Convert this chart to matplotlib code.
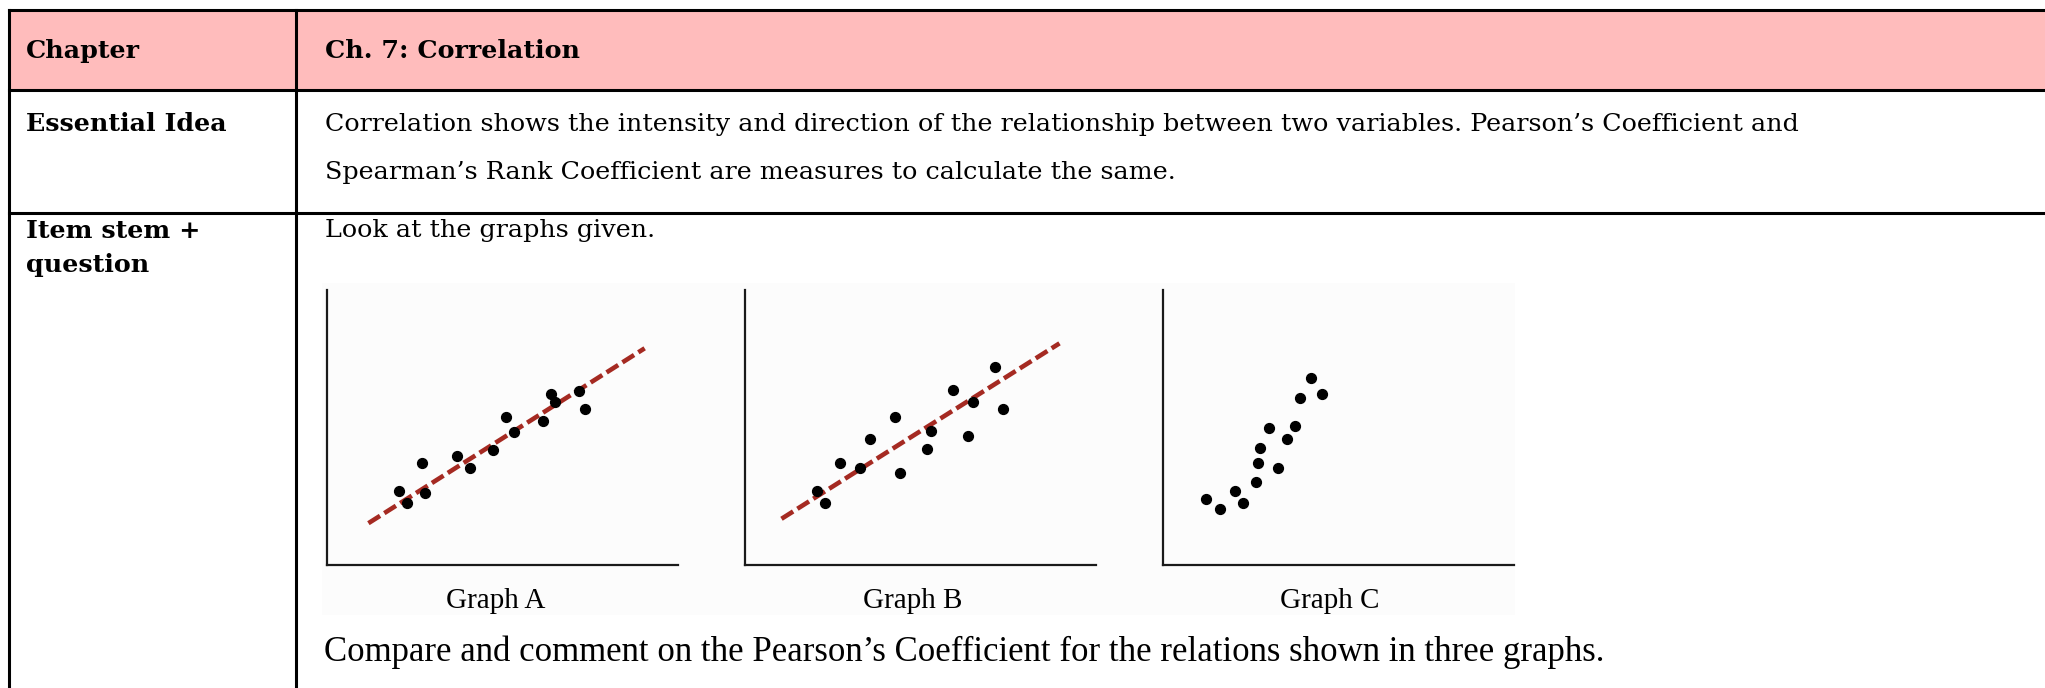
import matplotlib.pyplot as plt
from matplotlib.patches import Rectangle

# table text
row_labels = ["Chapter", "Essential Idea", "Item stem +", "question"]
chapter = "Ch. 7: Correlation"
idea_lines = ["Correlation shows the intensity and direction of the relationship between two variables. Pearson\u2019s Coefficient and",
              "Spearman\u2019s Rank Coefficient are measures to calculate the same."]
stem = "Look at the graphs given."
question = "Compare and comment on the Pearson\u2019s Coefficient for the relations shown in three graphs."
graph_names = ["Graph A", "Graph B", "Graph C"]

# scatter data (axis units 0-10)
a_x = [2.04, 2.29, 2.72, 2.80, 3.70, 4.06, 4.72, 5.10, 5.33, 6.16, 6.37, 6.50, 7.17, 7.36]
a_y = [2.70, 2.27, 3.72, 2.61, 3.98, 3.53, 4.18, 5.39, 4.85, 5.22, 6.22, 5.94, 6.34, 5.66]
a_fit_x = [1.18, 9.05]
a_fit_y = [1.52, 7.88]

b_x = [2.04, 2.27, 2.70, 3.29, 3.55, 4.28, 4.41, 5.18, 5.31, 5.92, 6.36, 6.49, 7.13, 7.35]
b_y = [2.70, 2.27, 3.72, 3.53, 4.59, 5.39, 3.33, 4.21, 4.87, 6.35, 4.70, 5.94, 7.20, 5.67]
b_fit_x = [1.04, 8.96]
b_fit_y = [1.68, 8.06]

c_x = [1.23, 1.63, 2.04, 2.27, 2.65, 2.70, 2.77, 3.03, 3.29, 3.54, 3.75, 3.90, 4.22, 4.54]
c_y = [2.39, 2.05, 2.70, 2.27, 3.02, 3.72, 4.24, 4.98, 3.52, 4.59, 5.07, 6.08, 6.80, 6.21]

W, H = 2045, 688
fig = plt.figure(figsize=(W / 100, H / 100), dpi=100)
ax = fig.add_axes([0, 0, 1, 1])
ax.set_xlim(0, W)
ax.set_ylim(H, 0)
ax.axis('off')

serif = 'DejaVu Serif'
fs = 18.3
lc = 'black'
lw = 2.2

# header fill
ax.add_patch(Rectangle((9, 10), W, 80, facecolor='#ffbcbc', edgecolor='none', zorder=0))
# graph picture background
ax.add_patch(Rectangle((322, 283), 1193, 332, facecolor='#fcfcfc', edgecolor='none', zorder=0))

# grid lines
for y in [10, 90, 213]:
    ax.plot([9, W + 5], [y, y], color=lc, lw=lw, solid_capstyle='projecting')
for x in [9, 296]:
    ax.plot([x, x], [10, H + 5], color=lc, lw=lw, solid_capstyle='projecting')

# left column
label_y = [51, 124, 231, 265]
for t, y in zip(row_labels, label_y):
    ax.text(26, y, t, family=serif, fontweight='bold', fontsize=fs, va='center', ha='left')

ax.text(325, 51, chapter, family=serif, fontweight='bold', fontsize=fs, va='center', ha='left')
for t, y in zip(idea_lines, [124, 172]):
    ax.text(325, y, t, family=serif, fontsize=fs, va='center', ha='left')
ax.text(325, 231, stem, family=serif, fontsize=fs, va='center', ha='left')
ax.text(324, 652, question, family='Liberation Serif', fontsize=25, va='center', ha='left')

for t, x in zip(graph_names, [496, 913, 1330]):
    ax.text(x, 601, t, family='Liberation Serif', fontsize=21, va='center', ha='center')

# the three small graphs
graphs = [(327, a_x, a_y, a_fit_x, a_fit_y),
          (745, b_x, b_y, b_fit_x, b_fit_y),
          (1163, c_x, c_y, None, None)]
for left, gx, gy, fx, fy in graphs:
    g = fig.add_axes([left / W, (H - 565) / H, 351 / W, 275 / H])
    g.set_xlim(0, 10)
    g.set_ylim(0, 10)
    g.patch.set_alpha(0)
    for s in ['top', 'right']:
        g.spines[s].set_visible(False)
    for s in ['left', 'bottom']:
        g.spines[s].set_linewidth(1.6)
        g.spines[s].set_color('#1a1a1a')
    g.set_xticks([])
    g.set_yticks([])
    if fx is not None:
        g.plot(fx, fy, color='#a52a22', lw=3.3, dashes=(3.0, 1.1), zorder=1)
    g.scatter(gx, gy, s=50, color='black', zorder=2)

fig.savefig('out.png', dpi=100)
